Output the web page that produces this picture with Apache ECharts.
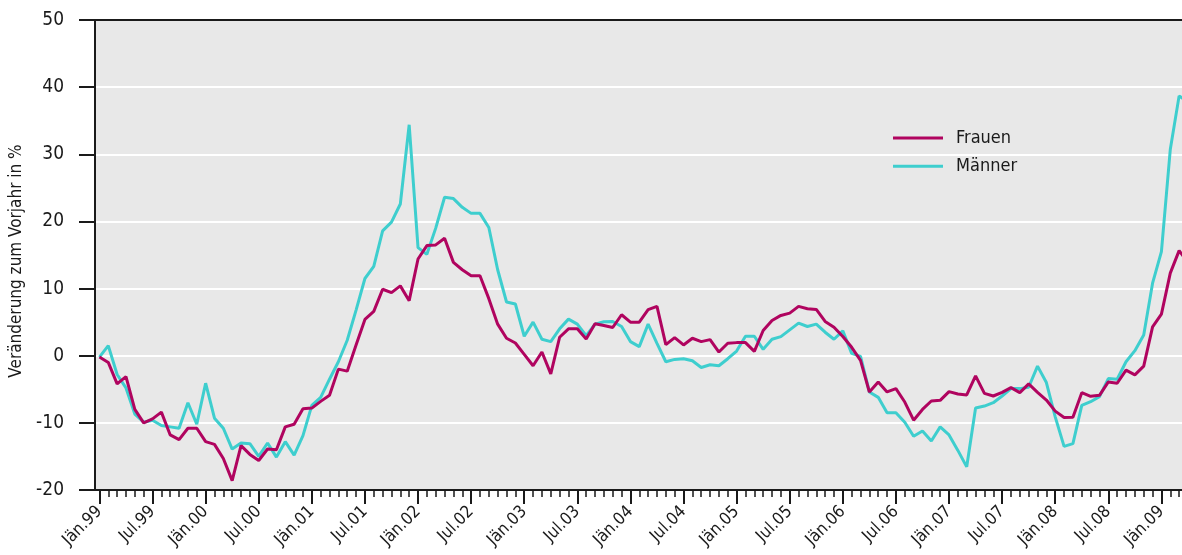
<!DOCTYPE html>
<html>
<head>
<meta charset="utf-8">
<script src="https://cdn.jsdelivr.net/npm/echarts@6/dist/echarts.min.js"></script>
<style>
  html, body { margin: 0; padding: 0; background: #ffffff; }
  #chart { width: 1182px; height: 555px; }
</style>
</head>
<body>
<div id="chart"></div>
<script>
// Monthly change against the previous year (%), Jän.99 – Apr.09
const monthNames = ['Jän', 'Feb', 'Mär', 'Apr', 'Mai', 'Jun', 'Jul', 'Aug', 'Sep', 'Okt', 'Nov', 'Dez'];
const startYear = 1999;
const monthCount = 124;

const frauen = [
  -0.2, -1.0, -4.2, -3.1, -8.0, -10.0, -9.4, -8.4, -11.8, -12.5, -10.8, -10.8,
  -12.8, -13.2, -15.3, -18.6, -13.4, -14.7, -15.6, -13.9, -14.0, -10.6, -10.2, -7.9,
  -7.8, -6.8, -5.9, -2.0, -2.3, 1.6, 5.4, 6.6, 9.9, 9.4, 10.4, 8.2,
  14.4, 16.4, 16.5, 17.5, 13.9, 12.8, 11.9, 11.9, 8.5, 4.7, 2.6, 1.9,
  0.2, -1.5, 0.55, -2.7, 2.75, 4.0, 4.0, 2.5, 4.75, 4.5, 4.2, 6.1,
  5.0, 5.0, 6.85, 7.35, 1.65, 2.7, 1.6, 2.6, 2.1, 2.4, 0.55, 1.85,
  1.95, 1.95, 0.65, 3.75, 5.25, 6.0, 6.35, 7.35, 7.0, 6.9, 5.1, 4.25,
  2.85, 1.25, -0.7, -5.4, -3.9, -5.4, -4.9, -6.9, -9.6, -8.0, -6.75, -6.65,
  -5.35, -5.7, -5.85, -3.0, -5.6, -6.0, -5.45, -4.75, -5.5, -4.2, -5.45, -6.6,
  -8.25, -9.2, -9.15, -5.5, -6.05, -5.9, -3.9, -4.1, -2.15, -2.85, -1.55, 4.3,
  6.2, 12.3, 15.65, 13.9
];

const maenner = [
  -0.2, 1.5, -2.8, -4.8, -8.7, -9.9, -9.6, -10.4, -10.6, -10.8, -7.0, -10.2,
  -4.1, -9.3, -10.8, -13.9, -13.0, -13.1, -15.0, -13.0, -15.1, -12.8, -14.8, -11.9,
  -7.4, -6.2, -3.5, -0.9, 2.3, 6.8, 11.5, 13.3, 18.6, 19.9, 22.6, 34.4,
  16.1, 15.1, 19.0, 23.6, 23.4, 22.1, 21.2, 21.2, 19.1, 12.8, 8.0, 7.7,
  2.9, 5.0, 2.45, 2.1, 4.0, 5.45, 4.7, 3.0, 4.7, 5.05, 5.1, 4.35,
  2.1, 1.35, 4.7, 1.85, -0.9, -0.55, -0.45, -0.75, -1.75, -1.35, -1.5, -0.45,
  0.7, 2.9, 2.9, 0.95, 2.45, 2.85, 3.85, 4.85, 4.35, 4.7, 3.5, 2.45,
  3.7, 0.35, -0.1, -5.4, -6.2, -8.5, -8.5, -9.9, -12.0, -11.2, -12.7, -10.6,
  -11.8, -14.1, -16.55, -7.8, -7.5, -7.0, -6.0, -4.9, -4.9, -4.7, -1.55, -4.0,
  -9.1, -13.5, -13.1, -7.4, -6.85, -6.1, -3.4, -3.5, -0.9, 0.75, 3.1, 10.8,
  15.5, 30.7, 38.7, 37.8
];

const yMin = -20;
const yMax = 50;
const yStep = 10;

// Category labels such as "Jän.99"
const categories = [];
for (let i = 0; i < monthCount; i++) {
  const m = i % 12;
  const y = (startYear + Math.floor(i / 12)) % 100;
  categories.push(monthNames[m] + '.' + String(y).padStart(2, '0'));
}

const FONT = "'Liberation Sans Narrow', 'Arial Narrow', 'DejaVu Sans Condensed', sans-serif";
const INK = '#1a1a1a';
const COLOR_F = '#b0045f';
const COLOR_M = '#3ecece';

const chart = echarts.init(document.getElementById('chart'), null, { renderer: 'canvas' });

const bandWidth = 8.85;
chart.setOption({
  animation: false,
  backgroundColor: '#ffffff',
  textStyle: { fontFamily: FONT },
  grid: {
    left: 95,
    top: 20,
    width: bandWidth * monthCount,
    height: 470,
    outerBoundsMode: 'none',
    containLabel: false,
    show: true,
    backgroundColor: '#e8e8e8',
    borderWidth: 0
  },
  legend: {
    orient: 'vertical',
    left: 893,
    top: 128,
    padding: 0,
    icon: 'rect',
    itemWidth: 50,
    itemHeight: 3,
    itemGap: 8.3,
    data: ['Frauen', 'Männer'],
    textStyle: { fontFamily: FONT, fontSize: 18, lineHeight: 20, color: INK, padding: [0, 0, 0, 8] }
  },
  xAxis: [
    {
      // monthly minor ticks
      type: 'category',
      data: categories,
      boundaryGap: true,
      position: 'bottom',
      axisLine: { show: true, onZero: false, lineStyle: { color: INK, width: 2 } },
      axisTick: { show: true, interval: 0, alignWithLabel: true, length: 7, lineStyle: { color: INK, width: 1.5 } },
      axisLabel: { show: false },
      splitLine: { show: false }
    },
    {
      // half-year major ticks with labels
      type: 'category',
      data: categories,
      boundaryGap: true,
      position: 'bottom',
      axisLine: { show: false, onZero: false },
      axisTick: { show: true, interval: 5, alignWithLabel: true, length: 14, lineStyle: { color: INK, width: 2 } },
      axisLabel: {
        show: true,
        interval: 5,
        rotate: 45,
        margin: 19,
        fontFamily: FONT,
        fontSize: 17,
        color: INK
      },
      splitLine: { show: false }
    },
    {
      // top frame line
      type: 'category',
      data: categories,
      position: 'top',
      axisLine: { show: true, onZero: false, lineStyle: { color: INK, width: 2 } },
      axisTick: { show: false },
      axisLabel: { show: false },
      splitLine: { show: false }
    }
  ],
  yAxis: {
    type: 'value',
    min: yMin,
    max: yMax,
    interval: yStep,
    name: 'Veränderung zum Vorjahr in %',
    nameLocation: 'middle',
    nameGap: 65,
    nameTextStyle: { fontFamily: FONT, fontSize: 17, color: INK, padding: [0, 12, 0, 0] },
    axisLine: { show: true, onZero: false, lineStyle: { color: INK, width: 2 } },
    axisTick: { show: true, length: 16, lineStyle: { color: INK, width: 2 } },
    axisLabel: { margin: 31, fontFamily: FONT, fontSize: 19, color: INK },
    splitLine: { show: true, showMinLine: false, showMaxLine: false, lineStyle: { color: '#ffffff', width: 2 } }
  },
  series: [
    {
      name: 'Männer',
      type: 'line',
      xAxisIndex: 0,
      data: maenner,
      symbol: 'none',
      lineStyle: { color: COLOR_M, width: 3 },
      itemStyle: { color: COLOR_M },
      z: 3
    },
    {
      name: 'Frauen',
      type: 'line',
      xAxisIndex: 0,
      data: frauen,
      symbol: 'none',
      lineStyle: { color: COLOR_F, width: 3 },
      itemStyle: { color: COLOR_F },
      z: 4
    }
  ]
});
</script>
</body>
</html>
